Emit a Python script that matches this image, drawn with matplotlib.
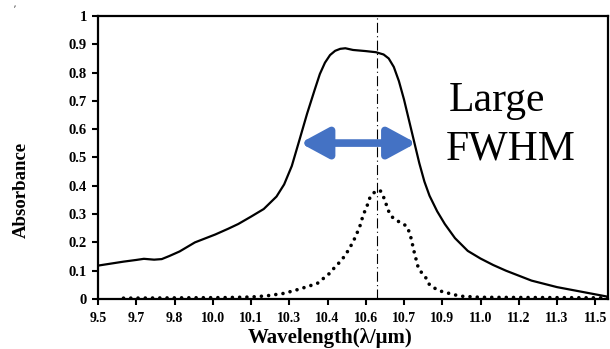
import matplotlib
matplotlib.use("Agg")
import matplotlib.pyplot as plt
import numpy as np

# Solid curve (large FWHM)
solid_x = [9.50, 9.55, 9.60, 9.65, 9.68, 9.72, 9.75, 9.78, 9.82, 9.88, 9.92, 9.96, 10.01,
           10.05, 10.10, 10.15, 10.20, 10.23, 10.26, 10.29, 10.32, 10.35, 10.37, 10.39,
           10.41, 10.43, 10.45, 10.47, 10.50, 10.55, 10.59, 10.62, 10.64, 10.66, 10.68,
           10.70, 10.72, 10.74, 10.76, 10.78, 10.80, 10.83, 10.86, 10.90, 10.95, 11.00,
           11.05, 11.10, 11.20, 11.30, 11.40, 11.50]
solid_y = [0.118, 0.125, 0.132, 0.138, 0.142, 0.139, 0.141, 0.152, 0.168, 0.200, 0.214, 0.228, 0.248,
           0.265, 0.291, 0.318, 0.362, 0.405, 0.470, 0.562, 0.655, 0.740, 0.795, 0.835,
           0.862, 0.877, 0.884, 0.886, 0.880, 0.876, 0.872, 0.864, 0.850, 0.820, 0.770,
           0.705, 0.630, 0.555, 0.480, 0.415, 0.365, 0.310, 0.265, 0.215, 0.170, 0.143,
           0.120, 0.100, 0.065, 0.042, 0.025, 0.008]

# Dotted curve (narrow peak)
dot_x = [9.60, 9.80, 10.00, 10.10, 10.16, 10.23, 10.29, 10.36, 10.41, 10.43, 10.45, 10.47,
         10.49, 10.51, 10.528, 10.54, 10.554, 10.567, 10.587, 10.607, 10.62, 10.64, 10.653,
         10.68, 10.71, 10.72, 10.73, 10.736, 10.748, 10.756, 10.77, 10.79, 10.80, 10.826,
         10.85, 10.92, 11.00, 11.50]
dot_y = [0.003, 0.004, 0.005, 0.007, 0.011, 0.020, 0.035, 0.055, 0.092, 0.114, 0.132, 0.155,
         0.185, 0.220, 0.260, 0.297, 0.326, 0.360, 0.380, 0.383, 0.360, 0.310, 0.290,
         0.273, 0.258, 0.238, 0.208, 0.180, 0.138, 0.110, 0.092, 0.070, 0.050, 0.035,
         0.026, 0.010, 0.006, 0.004]

center_wl = 10.595
fwhm_left, fwhm_right, half_max = 10.293, 10.748, 0.551

x_ticks = [9.5 + 0.15 * k for k in range(14)]
x_tick_labels = [f"{v:.1f}" for v in [9.5, 9.7, 9.8, 10.0, 10.1, 10.3, 10.4, 10.6, 10.7, 10.9, 11.0, 11.2, 11.3, 11.5]]
y_ticks = [0, 0.1, 0.2, 0.3, 0.4, 0.5, 0.6, 0.7, 0.8, 0.9, 1]
y_tick_labels = ["0", "0.1", "0.2", "0.3", "0.4", "0.5", "0.6", "0.7", "0.8", "0.9", "1"]

plt.rcParams['font.family'] = ['Liberation Serif', 'DejaVu Serif']

fig = plt.figure(figsize=(6.10, 3.49), dpi=100)
ax = fig.add_axes([98/610, 50/349, 510/610, 283/349])

ax.plot(solid_x, solid_y, color='black', lw=1.6, solid_joinstyle='round')
ax.plot(dot_x, dot_y, color='black', lw=2.6, linestyle=(0, (0.01, 2.0)),
        dash_capstyle='round')
ax.axvline(center_wl, color='black', lw=0.8, linestyle=(0, (9, 3, 1, 3)))

ax.annotate('', xy=(fwhm_right, half_max), xytext=(fwhm_left, half_max),
            arrowprops=dict(arrowstyle='<|-|>,head_length=1.2,head_width=0.65',
                            color='#4472C4', lw=5.5, mutation_scale=14,
                            shrinkA=0, shrinkB=0))

ax.text(10.875, 0.70, 'Large', fontsize=30, family='Liberation Serif', ha='left', va='center')
ax.text(10.865, 0.53, 'FWHM', fontsize=30, family='Liberation Serif', ha='left', va='center')

ax.set_xlim(9.5, 11.5)
ax.set_ylim(0, 1)
ax.set_xticks(x_ticks)
ax.set_xticklabels(x_tick_labels, fontweight='bold', fontsize=10)
ax.set_yticks(y_ticks)
ax.set_yticklabels(y_tick_labels, fontweight='bold', fontsize=10.5)
ax.tick_params(direction='out', length=4, width=1.5, pad=4)
ax.tick_params(axis='x', pad=5)
for s in ax.spines.values():
    s.set_linewidth(1.6)

xl = ax.set_xlabel('Wavelength(λ/μm)', fontweight='bold', fontsize=15)
xl.set_va('center')
ax.xaxis.set_label_coords(0.455, -0.138)
yl = ax.set_ylabel('Absorbance', fontweight='bold', fontsize=13.5)
yl.set_va('center')
ax.yaxis.set_label_coords(-0.151, 0.387)

fig.text(15/610, 1 - 10/349, 'ʹ', fontsize=7, ha='center', va='center')

fig.savefig('out.png', dpi=100)
